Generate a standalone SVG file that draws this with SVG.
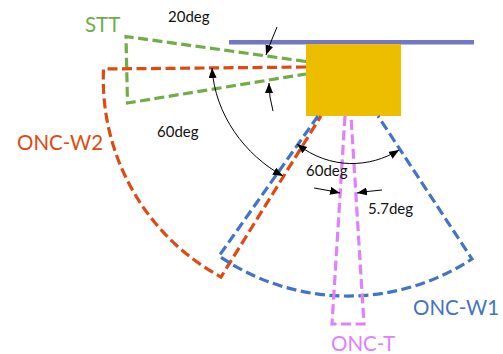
<svg xmlns="http://www.w3.org/2000/svg" width="503" height="354" viewBox="0 0 503 354">
<style>
.d{fill:none;stroke-width:3.2;stroke-dasharray:10 4.5}
.a{fill:none;stroke:#000;stroke-width:1}
text{font-family:"Lato","Liberation Sans",sans-serif}
.k{font-size:15px;fill:#111}
.l{font-size:20.500px}
</style>
<defs>
<marker id="h" markerUnits="userSpaceOnUse" markerWidth="12" markerHeight="10" refX="10" refY="4" orient="auto-start-reverse"><path d="M0 0L10 4L0 8Z" fill="#000"/></marker>
</defs>
<rect width="503" height="354" fill="#fff"/>
<g id="mount"><rect x="229" y="40" width="245" height="4.500" fill="#7277C8"/></g>
<g id="body"><rect x="306" y="44" width="95" height="72" fill="#EDBE00"/></g>
<g id="connectors">
<path class="d" stroke="#70AD47" d="M306 61.500L126 36.500L127.500 103L306 74"/>
<path class="d" stroke="#DE4A12" d="M306 67L103.500 69A225 225 0 0 0 221 277L321 116"/>
<path class="d" stroke="#4274C4" d="M318 116L219 256A227 227 0 0 0 472 259L378 116"/>
<path class="d" stroke="#DF80FF" d="M345 116L332 324H364L351 116"/>
<path class="a" marker-end="url(#h)" d="M277 27Q271 41 266 55"/>
<path class="a" marker-end="url(#h)" d="M273 111Q269 97 269 83"/>
<path class="a" marker-start="url(#h)" marker-end="url(#h)" d="M212 68C215 115 245 155 283 176"/>
<path class="a" marker-start="url(#h)" marker-end="url(#h)" d="M297 144C330 170 370 168 399 150"/>
<path class="a" marker-end="url(#h)" d="M314 188Q327 190 340 193"/>
<path class="a" marker-end="url(#h)" d="M382 190Q370 191 357 193"/>
</g>
<g id="labels">
<text class="k" x="168" y="22">20deg</text>
<text class="k" x="157" y="137">60deg</text>
<text class="k" x="306" y="176">60deg</text>
<text class="k" x="368" y="214">5.7deg</text>
<text class="l" x="85" y="32" fill="#70AD47">STT</text>
<text class="l" x="17" y="150" fill="#DE4A12">ONC-W2</text>
<text class="l" x="413" y="315" fill="#4274C4">ONC-W1</text>
<text class="l" x="331" y="351" fill="#DF80FF">ONC-T</text>
</g>
</svg>
